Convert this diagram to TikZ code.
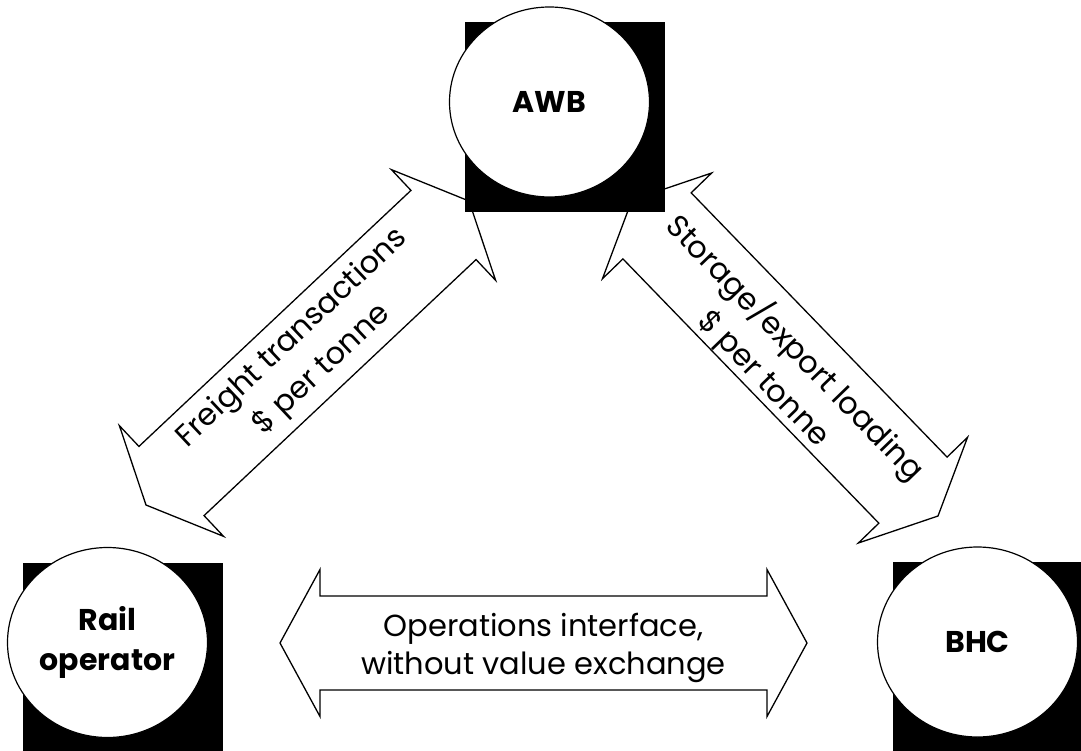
\documentclass[tikz,border=0pt]{standalone}
\usepackage{fontspec}
\setmainfont{Poppins}
\usetikzlibrary{calc,shapes.geometric}
\newcommand{\dblarrow}[6]{%
  \coordinate (#1-ca) at ($(#2)!#4!(#3)$);
  \coordinate (#1-cb) at ($(#3)!#4!(#2)$);
  \draw[arrowshape] (#2)
    -- ($(#1-ca)!#5!90:(#3)$)
    -- ($(#1-ca)!#6!90:(#3)$)
    -- ($(#1-cb)!#6!-90:(#2)$)
    -- ($(#1-cb)!#5!-90:(#2)$)
    -- (#3)
    -- ($(#1-cb)!#5!90:(#2)$)
    -- ($(#1-cb)!#6!90:(#2)$)
    -- ($(#1-ca)!#6!-90:(#3)$)
    -- ($(#1-ca)!#5!-90:(#3)$)
    -- cycle;
}
\begin{document}
\begin{tikzpicture}[x=1pt,y=-1pt,
  arrowshape/.style={draw=black, line width=1.3pt, fill=white, line join=miter},
  entity/.style={ellipse, draw=black, line width=1.2pt, fill=white,
    minimum width=200pt, minimum height=190pt, inner sep=0pt, align=center,
    font=\fontsize{30}{40}\selectfont\bfseries},
  shadowbox/.style={fill=black},
  lbl/.style={align=center, inner sep=0pt, font=\fontsize{30.5}{43}\selectfont},
  lblh/.style={align=center, inner sep=0pt, font=\fontsize{30.5}{38}\selectfont}]
\useasboundingbox (0,0) rectangle (1081,751);
\clip (0,0) rectangle (1081,751);

% centres
\coordinate (awbc) at (549.5,102);
\coordinate (railc) at (107.5,642.5);
\coordinate (bhcc) at (977.5,642);

% arrow tips
\coordinate (fA) at (146,505);
\coordinate (fB) at (469,201);
\coordinate (sA) at (632,200);
\coordinate (sB) at (938,516);
\coordinate (oA) at (280,643);
\coordinate (oB) at (807,643);

% arrows
\dblarrow{fr}{fA}{fB}{35pt}{76pt}{47.5pt}
\dblarrow{st}{sA}{sB}{36pt}{76pt}{47.5pt}
\dblarrow{op}{oA}{oB}{40pt}{73.5pt}{47pt}

% labels on arrows
\node[lbl, rotate=43.3] (frl) at (307.5,354) {Freight transactions\\\$ per tonne};
\node[lbl, rotate=-45.9] (stl) at (780,363) {Storage/export loading\\\$ per tonne};
\node[lblh] (opl) at (543.5,648) {Operations interface,\\without value exchange};

% shadows
\fill[shadowbox] ($(awbc)+(-85,-80)$) rectangle ($(awbc)+(115,110)$);
\fill[shadowbox] ($(railc)+(-85,-80)$) rectangle ($(railc)+(115,110)$);
\fill[shadowbox] ($(bhcc)+(-85,-80)$) rectangle ($(bhcc)+(115,110)$);

% entities
\node[entity] (awb) at (awbc) {AWB};
\node[entity] (rail) at (railc) {Rail\\operator};
\node[entity] (bhc) at (bhcc) {BHC};
\end{tikzpicture}
\end{document}
